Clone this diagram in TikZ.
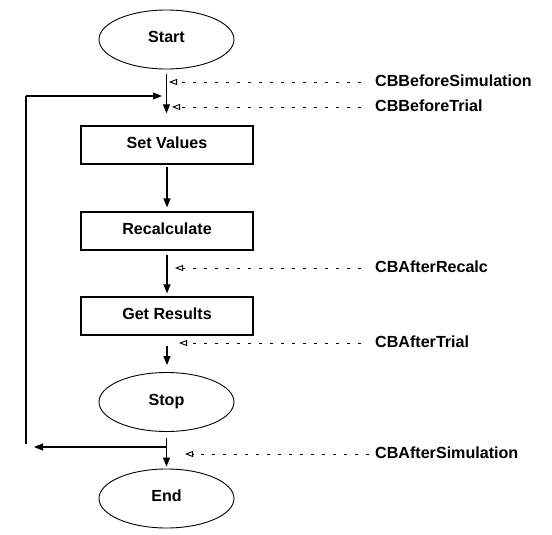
\documentclass[tikz,border=0pt]{standalone}
\usepackage{fontspec}
\setmainfont{Liberation Sans}
\usetikzlibrary{shapes.geometric,arrows.meta}
\begin{document}
\begin{tikzpicture}[x=1pt,y=-1pt,
 every node/.style={font=\fontsize{16.1}{18}\selectfont\bfseries},
 oval/.style={draw,ellipse,line width=0.9pt,minimum width=135pt,minimum height=59pt,inner sep=0pt,text height=11.5pt,text depth=5.5pt},
 proc/.style={draw,rectangle,line width=1.2pt,minimum width=172pt,minimum height=38pt,inner sep=0pt,text height=11.5pt,text depth=5.5pt},
 flow/.style={line width=1.1pt,-{Triangle[length=9pt,width=7pt]}},
 plain/.style={line width=1.1pt},
 cb/.style={line width=0.9pt,dash pattern=on 3pt off 8pt,-{Triangle[open,length=8pt,width=6pt,line width=0.9pt]},shorten <=14pt},
 cblabel/.style={anchor=west,inner sep=0pt}
]
\useasboundingbox (0,0) rectangle (552,535);
\node[oval] (start) at (166.5,39.5) {Start};
\node[proc] (setv) at (167,145) {Set Values};
\node[proc] (recalc) at (167,231) {Recalculate};
\node[proc] (getres) at (167,316) {Get Results};
\node[oval] (stop) at (166.5,402) {Stop};
\node[oval] (end) at (166.5,498.5) {End};

\draw[flow,shorten <=5pt,shorten >=12pt] (start.south) -- (start.south |- setv.north);
\draw[flow,shorten <=2pt,shorten >=4pt] (setv.south) -- (recalc.north);
\draw[flow,shorten <=4pt,shorten >=3pt] (recalc.south) -- (getres.north);
\draw[flow,shorten <=10pt,shorten >=7pt] (getres.south) -- (getres.south |- stop.north);
\draw[flow,shorten <=6pt,shorten >=2pt] (stop.south) -- (end.north);

\coordinate (ltop) at (26,96);
\coordinate (lbot) at (26,444);
\coordinate (jtop) at (166,96);
\coordinate (jbot) at (166,447);
\coordinate (lret) at (34,447);
\draw[plain] (lbot) -- (ltop);
\draw[flow,shorten >=4pt] (ltop) -- (jtop);
\draw[flow] (jbot) -- (lret);

\node[cblabel] (lbs) at (375,80.5) {CBBeforeSimulation};
\node[cblabel] (lbt) at (375,106) {CBBeforeTrial};
\node[cblabel] (lar) at (375,267) {CBAfterRecalc};
\node[cblabel] (lat) at (375,341.5) {CBAfterTrial};
\node[cblabel] (las) at (375,452.5) {CBAfterSimulation};

\coordinate (tbs) at (169,82);
\coordinate (tbt) at (172,107);
\coordinate (tar) at (175,268);
\coordinate (tat) at (179,343);
\coordinate (tas) at (185,454);

\draw[cb] (lbs.west |- tbs) -- (tbs);
\draw[cb] (lbt.west |- tbt) -- (tbt);
\draw[cb] (lar.west |- tar) -- (tar);
\draw[cb] (lat.west |- tat) -- (tat);
\draw[cb,shorten <=6pt] (las.west |- tas) -- (tas);
\end{tikzpicture}
\end{document}
